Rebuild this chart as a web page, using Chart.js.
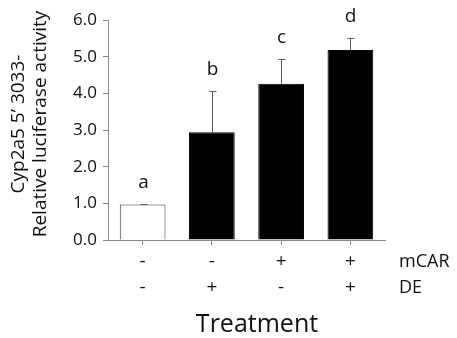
<!DOCTYPE html>
<html>
<head>
<meta charset="utf-8">
<script src="https://cdn.jsdelivr.net/npm/chart.js@4.4.1/dist/chart.umd.min.js"></script>
<style>
  html, body { margin: 0; padding: 0; background: #fff; }
  #wrap { width: 457px; height: 338px; }
</style>
</head>
<body>
<div id="wrap"><canvas id="chart" width="457" height="338"></canvas></div>
<script>
const mCAR = ["-", "-", "+", "+"];
const DE = ["-", "+", "-", "+"];
const activity = [0.97, 2.94, 4.26, 5.18];
const errorUp = [0.02, 1.12, 0.68, 0.33];
const letters = ["a", "b", "c", "d"];
const yTitle = ["Cyp2a5 5\u2019 3033-", "Relative luciferase activity"];
const xTitle = "Treatment";

const FONT = "'Open Sans', sans-serif";
const axisGray = "#868686";

// error bars (upper only) plus the letters above them
const errorBars = {
  id: "errorBars",
  afterDatasetsDraw(chart) {
    const { ctx, scales: { y } } = chart;
    const meta = chart.getDatasetMeta(0);
    ctx.save();
    ctx.strokeStyle = "#5a5a5a";
    ctx.lineWidth = 1;
    ctx.fillStyle = "#111";
    ctx.font = "19px " + FONT;
    ctx.textAlign = "center";
    ctx.textBaseline = "alphabetic";
    meta.data.forEach((bar, i) => {
      const top = Math.round(y.getPixelForValue(activity[i] + errorUp[i])) + 0.5;
      const px = Math.round(bar.x) + 0.5;
      ctx.beginPath();
      ctx.moveTo(px, bar.y);
      ctx.lineTo(px, top);
      ctx.moveTo(px - 3, top);
      ctx.lineTo(px + 4, top);
      ctx.stroke();
      ctx.fillText(letters[i], px, top - 17);
    });
    ctx.restore();
  }
};

// axis titles and the row names on the right
const titles = {
  id: "titles",
  afterDraw(chart) {
    const { ctx, chartArea, scales: { x } } = chart;
    ctx.save();
    ctx.fillStyle = "#111";
    ctx.textBaseline = "middle";

    ctx.font = "18px " + FONT;
    ctx.textAlign = "left";
    const row1 = x.top + 5 + 4 + 13;
    ctx.fillText("mCAR", chartArea.right + 14, row1);
    ctx.fillText("DE", chartArea.right + 14, row1 + 26);

    ctx.font = "25px " + FONT;
    ctx.textAlign = "center";
    ctx.fillText(xTitle, 257, 325);

    ctx.font = "19px " + FONT;
    ctx.translate(0, 124);
    ctx.rotate(-Math.PI / 2);
    ctx.fillText(yTitle[0], 0, 19);
    ctx.fillText(yTitle[1], 0, 41);
    ctx.restore();
  }
};

new Chart(document.getElementById("chart"), {
  type: "bar",
  data: {
    labels: mCAR.map((m, i) => [m, DE[i]]),
    datasets: [{
      data: activity,
      backgroundColor: ["#ffffff", "#000000", "#000000", "#000000"],
      borderColor: ["#333333", "#000000", "#000000", "#000000"],
      borderWidth: 1,
      barPercentage: 0.66,
      categoryPercentage: 1
    }]
  },
  options: {
    responsive: false,
    animation: false,
    devicePixelRatio: 1,
    layout: { padding: { top: 20, right: 72, left: 0, bottom: 0 } },
    plugins: { legend: { display: false }, tooltip: { enabled: false } },
    scales: {
      x: {
        grid: { drawOnChartArea: false, offset: false, tickLength: 5, color: axisGray },
        border: { color: axisGray },
        ticks: { color: "#111", padding: 4, font: { family: FONT, size: 19, lineHeight: "26px" } },
        afterFit(scale) { scale.height = 98; }
      },
      y: {
        min: 0,
        max: 6,
        grid: { drawOnChartArea: false, tickLength: 5, color: axisGray },
        border: { color: axisGray },
        ticks: {
          stepSize: 1,
          padding: 6,
          color: "#111",
          font: { family: FONT, size: 17 },
          callback: (v) => v.toFixed(1)
        },
        afterFit(scale) { scale.width = 108; }
      }
    }
  },
  plugins: [errorBars, titles]
});
</script>
</body>
</html>
